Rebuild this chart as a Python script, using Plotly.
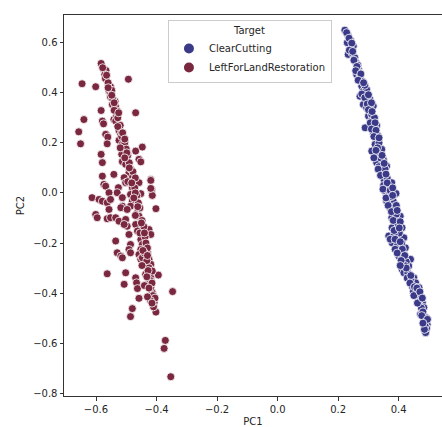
import plotly.graph_objects as go

# ---- data ----
left_pc1 = [-0.583,-0.574,-0.567,-0.571,-0.569,-0.646,-0.601,-0.493,-0.552,-0.557,-0.552,-0.552,-0.537,-0.546,-0.535,-0.530,
            -0.583,-0.469,-0.640,-0.579,-0.575,-0.541,-0.532,-0.535,-0.657,-0.524,-0.518,-0.568,-0.561,-0.651,-0.563,-0.524,
            -0.513,-0.510,-0.515,-0.447,-0.469,-0.458,-0.452,-0.583,-0.579,-0.513,-0.502,-0.541,-0.491,-0.480,-0.507,-0.502,
            -0.419,-0.458,-0.579,-0.574,-0.568,-0.526,-0.530,-0.557,-0.480,-0.486,-0.416,-0.414,-0.452,-0.613,-0.590,-0.579,
            -0.563,-0.552,-0.513,-0.513,-0.518,-0.480,-0.486,-0.497,-0.402,-0.463,-0.458,-0.601,-0.596,-0.557,-0.563,-0.552,
            -0.535,-0.524,-0.502,-0.497,-0.507,-0.469,-0.463,-0.425,-0.419,-0.452,-0.447,-0.491,-0.486,-0.535,-0.452,-0.458,
            -0.491,-0.486,-0.530,-0.518,-0.513,-0.452,-0.425,-0.419,-0.441,-0.425,-0.447,-0.430,-0.563,-0.502,-0.507,-0.469,
            -0.466,-0.463,-0.436,-0.425,-0.419,-0.394,-0.414,-0.347,-0.458,-0.414,-0.419,-0.408,-0.402,-0.480,-0.486,-0.371,
            -0.375,-0.353,
            -0.560,-0.548,-0.545,-0.540,-0.528,-0.520,-0.515,-0.505,-0.500,-0.495,-0.490,-0.485,-0.478,-0.470,-0.472,-0.465,
            -0.460,-0.455,-0.448,-0.442,-0.438,-0.435,-0.430,-0.440,-0.432,-0.428,-0.420,-0.415,-0.412,-0.405,-0.420,-0.410,
            -0.419,-0.419,
            -0.578,-0.565,-0.560,-0.548,-0.540,-0.525,-0.528,-0.512,-0.505,-0.520,-0.498,-0.505,-0.490,-0.495,-0.482,-0.470,
            -0.475,-0.462,-0.470,-0.450,-0.455,-0.440,-0.445,-0.430,-0.448,-0.432,-0.440,-0.425,-0.430,-0.415]
left_pc2 = [0.517,0.493,0.489,0.473,0.457,0.436,0.424,0.454,0.424,0.406,0.396,0.383,0.366,0.353,0.343,0.327,
            0.329,0.320,0.293,0.287,0.276,0.293,0.307,0.287,0.244,0.249,0.234,0.234,0.223,0.196,0.196,0.210,
            0.194,0.167,0.154,0.183,0.167,0.134,0.124,0.154,0.121,0.125,0.114,0.074,0.081,0.061,0.061,0.041,
            0.054,0.041,0.067,0.034,0.027,0.021,0.001,0.001,0.021,-0.006,0.014,-0.010,-0.003,-0.019,-0.026,-0.033,
            -0.039,-0.026,-0.019,-0.053,-0.059,-0.033,-0.053,-0.066,-0.063,-0.079,-0.093,-0.086,-0.099,-0.066,-0.103,-0.099,
            -0.099,-0.113,-0.106,-0.133,-0.126,-0.126,-0.152,-0.146,-0.166,-0.186,-0.206,-0.166,-0.206,-0.192,-0.226,-0.246,
            -0.226,-0.239,-0.239,-0.252,-0.259,-0.265,-0.265,-0.285,-0.279,-0.299,-0.259,-0.239,-0.323,-0.319,-0.365,-0.339,
            -0.359,-0.382,-0.325,-0.359,-0.339,-0.328,-0.312,-0.394,-0.421,-0.398,-0.378,-0.438,-0.476,-0.462,-0.494,-0.589,
            -0.621,-0.734,
            0.440,0.410,0.375,0.330,0.300,0.270,0.225,0.200,0.175,0.150,0.120,0.095,0.085,0.060,0.020,-0.010,
            -0.040,-0.060,-0.110,-0.135,-0.175,-0.200,-0.220,-0.240,-0.270,-0.310,-0.350,-0.360,-0.410,-0.420,-0.430,-0.455,
            0.050,0.018,
            0.500,0.470,0.420,0.390,0.360,0.320,0.265,0.240,0.215,0.180,0.160,0.140,0.100,0.045,0.040,0.000,
            -0.020,-0.055,-0.090,-0.120,-0.160,-0.160,-0.230,-0.250,-0.290,-0.335,-0.370,-0.380,-0.415,-0.440]

right_pc1 = [0.222,0.233,0.241,0.250,0.239,0.230,0.233,0.259,0.267,0.261,0.272,0.278,0.283,0.272,0.294,0.305,
             0.283,0.294,0.305,0.316,0.300,0.311,0.289,0.327,0.316,0.316,0.316,0.327,0.322,0.311,0.338,0.344,
             0.327,0.349,0.360,0.349,0.344,0.366,0.355,0.377,0.391,0.366,0.371,0.382,0.360,0.371,0.382,0.405,
             0.377,0.393,0.388,0.378,0.395,0.411,0.367,0.395,0.417,0.378,0.395,0.422,0.406,0.400,0.439,0.433,
             0.411,0.417,0.450,0.456,0.444,0.467,0.456,0.461,0.478,0.467,0.483,0.472,0.489,0.483,0.494,0.489,
             0.245,0.255,0.265,0.270,0.280,0.288,0.290,0.298,0.305,0.310,0.320,0.322,0.330,0.335,0.330,0.340,
             0.335,0.355,0.352,0.362,0.370,0.375,0.385,0.392,0.398,0.402,0.385,0.410,0.415,0.425,0.420,0.430,
             0.440,0.448,0.470,0.475,0.480,0.492,0.487,
             0.228,0.236,0.245,0.237,0.248,0.252,0.262,0.258,0.275,0.266,0.284,0.278,0.288,0.300,0.296,0.310,
             0.300,0.312,0.306,0.322,0.310,0.325,0.318,0.335,0.325,0.318,0.345,0.332,0.352,0.340,0.358,0.350,
             0.362,0.348,0.372,0.380,0.358,0.380,0.365,0.392,0.376,0.395,0.382,0.405,0.385,0.402,0.372,0.388,
             0.405,0.388,0.412,0.395,0.420,0.408,0.425,0.405,0.428,0.440,0.437,0.452,0.460,0.450,0.470,0.462,
             0.478,0.476,0.495,0.485,0.480]
right_pc2 = [0.650,0.629,0.610,0.586,0.580,0.600,0.553,0.520,0.493,0.473,0.460,0.426,0.406,0.386,0.413,0.373,
             0.353,0.340,0.327,0.347,0.307,0.293,0.260,0.269,0.287,0.273,0.240,0.214,0.194,0.167,0.154,0.174,
             0.121,0.134,0.107,0.067,0.087,0.027,0.007,0.041,-0.002,-0.013,-0.039,-0.033,-0.033,-0.059,-0.079,-0.093,
             -0.099,-0.113,-0.133,-0.139,-0.146,-0.139,-0.172,-0.186,-0.179,-0.199,-0.212,-0.219,-0.232,-0.252,-0.265,-0.292,
             -0.305,-0.319,-0.339,-0.359,-0.372,-0.378,-0.392,-0.412,-0.438,-0.432,-0.458,-0.485,-0.498,-0.512,-0.525,-0.558,
             0.560,0.540,0.510,0.480,0.445,0.430,0.390,0.365,0.345,0.315,0.300,0.255,0.230,0.200,0.180,0.140,
             0.105,0.095,0.050,0.060,0.015,-0.015,-0.055,-0.085,-0.125,-0.160,-0.165,-0.200,-0.245,-0.275,-0.290,-0.320,
             -0.345,-0.395,-0.410,-0.460,-0.475,-0.540,-0.530,
             0.640,0.618,0.598,0.570,0.565,0.530,0.505,0.488,0.475,0.450,0.440,0.395,0.380,0.392,0.355,0.360,
             0.332,0.325,0.280,0.280,0.255,0.250,0.225,0.220,0.170,0.140,0.150,0.095,0.118,0.070,0.075,0.030,
             0.040,0.015,0.010,0.020,-0.020,-0.010,-0.050,-0.050,-0.075,-0.070,-0.110,-0.115,-0.150,-0.140,-0.185,-0.185,
             -0.195,-0.225,-0.225,-0.240,-0.250,-0.270,-0.300,-0.290,-0.340,-0.330,-0.360,-0.375,-0.380,-0.410,-0.395,-0.440,
             -0.420,-0.490,-0.505,-0.545,-0.520]

classes = ["ClearCutting", "LeftForLandRestoration"]
colors = ["#3b3a88", "#7a2840"]

x_ticks = [-0.6, -0.4, -0.2, 0.0, 0.2, 0.4]
y_ticks = [-0.8, -0.6, -0.4, -0.2, 0.0, 0.2, 0.4, 0.6]

FONT = "DejaVu Sans"

fig = go.Figure()
for name, xs, ys, col in [(classes[0], right_pc1, right_pc2, colors[0]),
                          (classes[1], left_pc1, left_pc2, colors[1])]:
    fig.add_trace(go.Scatter(
        x=xs, y=ys, mode="markers", name=name,
        marker=dict(size=8, color=col, line=dict(color="white", width=0.8)),
    ))

axis_common = dict(
    showgrid=False, zeroline=False, showline=True, linecolor="#333333", linewidth=1,
    ticks="outside", ticklen=3.5, tickwidth=1, tickcolor="#333333", automargin=False,
    tickfont=dict(family=FONT, size=10, color="#262626"),
)

fig.update_layout(
    width=442, height=427,
    margin=dict(l=64, r=0, t=15, b=31, autoexpand=False),
    paper_bgcolor="white", plot_bgcolor="white",
    font=dict(family=FONT, size=10, color="#262626"),
    xaxis=dict(range=[-0.7057, 0.543], tickvals=x_ticks, tickformat=".1f", mirror=True,
               title=dict(text="PC1", standoff=4, font=dict(family=FONT, size=10)), **axis_common),
    yaxis=dict(range=[-0.811, 0.7105], tickvals=y_ticks, tickformat=".1f",
               title=dict(text="PC2", standoff=6, font=dict(family=FONT, size=10)), **axis_common),
    legend=dict(
        title=dict(text="Target", side="top center", font=dict(family=FONT, size=10)),
        x=0.275, y=0.987, xanchor="left", yanchor="top",
        bgcolor="rgba(255,255,255,0.8)", bordercolor="#cccccc", borderwidth=1,
        font=dict(family=FONT, size=10), tracegroupgap=0, itemsizing="constant",
    ),
    showlegend=True,
)

fig.write_html(
    "out.html",
    config={"displayModeBar": False},
    post_script="document.body.style.margin='0';document.body.style.padding='0';document.body.style.overflow='hidden';",
)
